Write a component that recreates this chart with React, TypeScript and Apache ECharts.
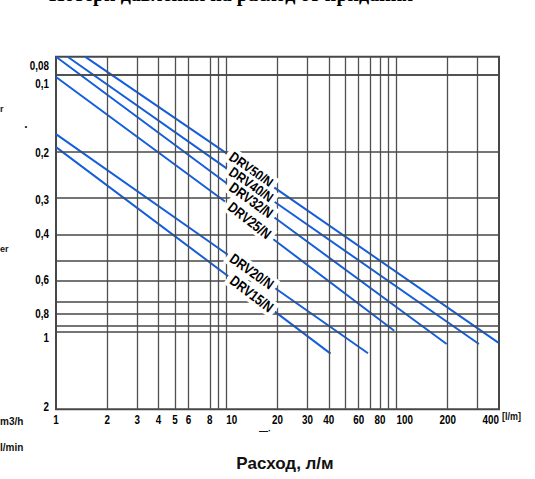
import React, { useEffect, useRef } from 'react';
import * as echarts from 'echarts';

const X_MIN = 1;
const X_MAX = 400;
const Y_MIN = 0.085;
const Y_MAX = 2;

// grid lines
const xGridValues = [2, 3, 4, 5, 6, 8, 9, 10, 20, 30, 40, 50, 60, 70, 80, 90, 100, 200, 300];
const yGridValues = [0.096, 0.1, 0.2, 0.3, 0.42, 0.53, 0.63, 0.76, 0.85, 0.95, 1];

// tick labels
const xTickValues = [1, 2, 3, 4, 5, 6, 8, 10, 20, 30, 40, 60, 80, 100, 200, 400];
const xTickLabels = ['1', '2', '3', '4', '5', '6', '8', '10', '20', '30', '40', '60', '80', '100', '200', '400'];
const yTickPositions = [0.092, 0.108, 0.2, 0.305, 0.415, 0.628, 0.846, 1.05, 1.95];
const yTickLabels = ['0,08', '0,1', '0,2', '0,3', '0,4', '0,6', '0,8', '1', '2'];

// valve curves: [start, label-gap start, label-gap end, end]  (flow l/m, value)
const valveNames = ['DRV50/N', 'DRV40/N', 'DRV32/N', 'DRV25/N', 'DRV20/N', 'DRV15/N'];
const drv50 = [[1.48, 0.085], [10.05, 0.202], [19.1, 0.274], [396, 1.1]];
const drv40 = [[1.17, 0.085], [10.05, 0.231], [19.1, 0.311], [305, 1.114]];
const drv32 = [[1.0, 0.085], [10.05, 0.264], [19.1, 0.358], [197, 1.114]];
const drv25 = [[1.0, 0.102], [9.83, 0.311], [18.9, 0.436], [97, 0.989]];
const drv20 = [[1.0, 0.17], [10.27, 0.502], [19.3, 0.675], [68, 1.21]];
const drv15 = [[1.0, 0.191], [10.27, 0.607], [19.3, 0.834], [41, 1.215]];
const valveCurves = [drv50, drv40, drv32, drv25, drv20, drv15];
const valveLabelPos = [[14, 0.234], [14, 0.268], [14, 0.3075], [13.7, 0.3685], [14.1, 0.582], [14.1, 0.712]];

const SANS = '"Liberation Sans", Arial, sans-serif';
const NARROW_SCALE = 0.82;

export default function App() {
  const ref = useRef<HTMLDivElement>(null);

  useEffect(() => {
    document.body.style.margin = '0';
    const chart = echarts.init(ref.current as HTMLDivElement, null, { renderer: 'svg' });

    const series: any[] = [];

    series.push({
      type: 'line',
      data: [[X_MIN, Y_MAX]],
      symbol: 'none',
      silent: true,
      lineStyle: { opacity: 0 },
      z: 1,
      markLine: {
        symbol: ['none', 'none'],
        silent: true,
        animation: false,
        label: { show: false },
        emphasis: { disabled: true },
        data: [
          ...xGridValues.map((v) => ({ xAxis: v, lineStyle: { color: '#505050', width: 1.3, type: 'solid' } })),
          ...yGridValues.map((v) => ({ yAxis: v, lineStyle: { color: '#474747', width: 1.7, type: 'solid' } })),
        ],
      },
    });

    valveCurves.forEach((pts, i) => {
      series.push({
        type: 'line',
        name: valveNames[i],
        data: [pts[0], pts[1], [pts[1][0], '-'], pts[2], pts[3]],
        symbol: 'none',
        connectNulls: false,
        silent: true,
        clip: true,
        lineStyle: { color: '#155fdc', width: 2 },
        z: 3,
      });
    });

    // valve labels, rotated along each curve
    series.push({
      type: 'custom',
      silent: true,
      z: 5,
      data: valveLabelPos.map((p, i) => [p[0], p[1], i]),
      renderItem: (params: any, api: any) => {
        const i = api.value(2);
        const c = api.coord([api.value(0), api.value(1)]);
        const a = api.coord(valveCurves[i][1]);
        const b = api.coord(valveCurves[i][2]);
        const ang = Math.atan2(b[1] - a[1], b[0] - a[0]);
        return {
          type: 'text',
          x: c[0],
          y: c[1],
          rotation: -ang,
          scaleX: NARROW_SCALE,
          style: {
            text: valveNames[i],
            font: 'bold 14.5px ' + SANS,
            fill: '#000',
            align: 'center',
            verticalAlign: 'middle',
            backgroundColor: '#ffffff',
            padding: [1, 5, 1, 5],
          },
        };
      },
    });

    const xAlign: Record<string, string> = { '10': 'left', '100': 'left', '400': 'right' };
    series.push({
      type: 'custom',
      silent: true,
      z: 5,
      data: xTickValues.map((v, i) => [v, Y_MAX, i]),
      renderItem: (params: any, api: any) => {
        const i = api.value(2);
        const c = api.coord([api.value(0), api.value(1)]);
        const t = xTickLabels[i];
        return {
          type: 'text',
          x: c[0],
          y: c[1] + 4,
          scaleX: NARROW_SCALE,
          style: {
            text: t,
            font: 'bold 12px ' + SANS,
            fill: '#000',
            align: xAlign[t] || 'center',
            verticalAlign: 'top',
          },
        };
      },
    });

    series.push({
      type: 'custom',
      silent: true,
      z: 5,
      data: yTickPositions.map((v, i) => [X_MIN, v, i]),
      renderItem: (params: any, api: any) => {
        const i = api.value(2);
        const c = api.coord([api.value(0), api.value(1)]);
        return {
          type: 'text',
          x: c[0] - 7,
          y: c[1],
          scaleX: NARROW_SCALE,
          style: {
            text: yTickLabels[i],
            font: 'bold 12px ' + SANS,
            fill: '#000',
            align: 'right',
            verticalAlign: 'middle',
          },
        };
      },
    });

    chart.setOption({
      animation: false,
      backgroundColor: '#ffffff',
      grid: {
        left: 56,
        top: 56.7,
        right: 36,
        bottom: 69.7,
        show: true,
        borderColor: '#474747',
        borderWidth: 2,
        backgroundColor: '#ffffff',
        containLabel: false,
        outerBoundsMode: 'none',
      },
      xAxis: {
        type: 'log',
        logBase: 10,
        min: X_MIN,
        max: X_MAX,
        axisLine: { show: false },
        axisTick: { show: false },
        axisLabel: { show: false },
        splitLine: { show: false },
      },
      yAxis: {
        type: 'log',
        logBase: 10,
        min: Y_MIN,
        max: Y_MAX,
        inverse: true,
        axisLine: { show: false },
        axisTick: { show: false },
        axisLabel: { show: false },
        splitLine: { show: false },
      },
      graphic: [
        {
          type: 'text',
          x: 231,
          y: -6,
          style: {
            text: 'Потери давления на расход от придания',
            font: 'bold 20px "Liberation Serif", serif',
            fill: '#000',
            align: 'center',
            verticalAlign: 'middle',
          },
        },
        {
          type: 'text',
          x: 285,
          y: 463,
          style: { text: 'Расход, л/м', font: 'bold 17px ' + SANS, fill: '#111', align: 'center', verticalAlign: 'middle' },
        },
        {
          type: 'text',
          x: 502,
          y: 416,
          scaleX: NARROW_SCALE,
          style: { text: '[l/m]', font: 'bold 11px ' + SANS, fill: '#111', align: 'left', verticalAlign: 'middle' },
        },
        {
          type: 'text',
          x: 265,
          y: 431,
          style: { text: '—·', font: 'bold 9px ' + SANS, fill: '#111', align: 'center', verticalAlign: 'middle' },
        },
        {
          type: 'text',
          x: 0,
          y: 109,
          style: { text: 'r', font: 'bold 9px ' + SANS, fill: '#111', align: 'left', verticalAlign: 'middle' },
        },
        {
          type: 'text',
          x: 26,
          y: 124,
          style: { text: '.', font: 'bold 12px ' + SANS, fill: '#111', align: 'center', verticalAlign: 'middle' },
        },
        {
          type: 'text',
          x: 0,
          y: 249,
          style: { text: 'er', font: 'bold 9px ' + SANS, fill: '#111', align: 'left', verticalAlign: 'middle' },
        },
        {
          type: 'text',
          x: 0,
          y: 421,
          style: { text: 'm3/h', font: 'bold 10px ' + SANS, fill: '#111', align: 'left', verticalAlign: 'middle' },
        },
        {
          type: 'text',
          x: 0,
          y: 447,
          style: { text: 'l/min', font: 'bold 10px ' + SANS, fill: '#111', align: 'left', verticalAlign: 'middle' },
        },
      ],
      series,
    });

    return () => {
      chart.dispose();
    };
  }, []);

  return <div ref={ref} style={{ width: 535, height: 479 }} />;
}
